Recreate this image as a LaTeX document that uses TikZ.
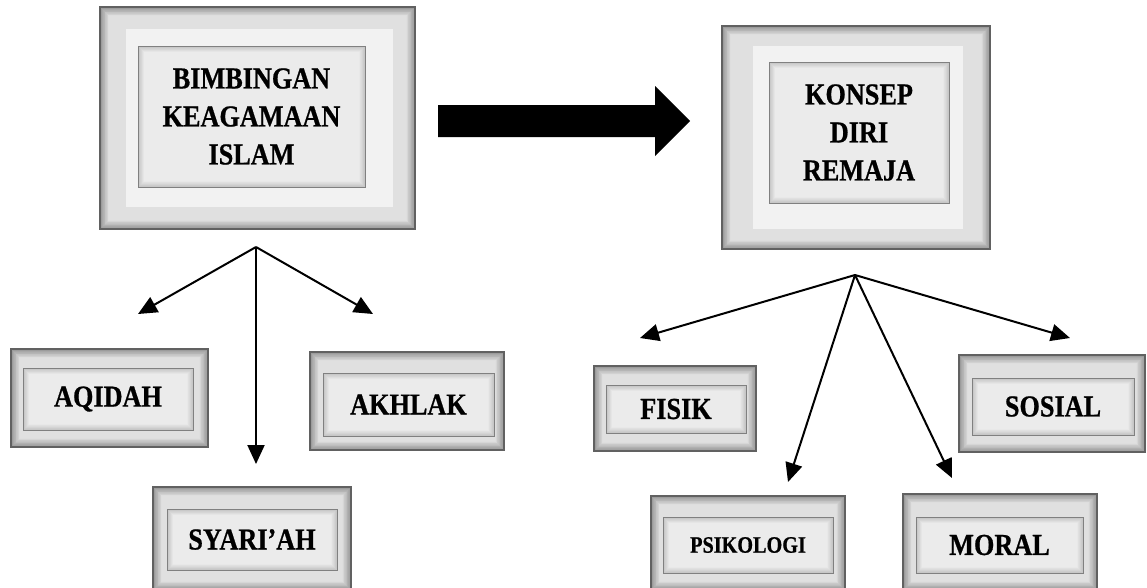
\documentclass[tikz,border=0pt]{standalone}
\usepackage{fontspec}
\setmainfont{Liberation Serif}[FakeStretch=0.86,BoldFeatures={FakeBold=0.7}]
\usetikzlibrary{arrows.meta}
\newcommand\bevfill[8]{%
  \foreach \k in {0,...,12}{%
    \pgfmathsetmacro\dd{#5*\k/12}%
    \pgfmathtruncatemacro\cc{#6+(#7-#6)*\k/12}%
    \fill[black!\cc] ({#1+\dd},{#2+\dd}) rectangle ({#3-\dd},{#4-\dd});
  }%
  \fill[black!#8] ({#1+#5},{#2+#5}) rectangle ({#3-#5},{#4-#5});
}
\newcommand\frameO[4]{%
  \bevfill{#1}{#2}{#3}{#4}{9}{42}{11}{12}%
  \draw[black!62,line width=1.3pt] (#1,#2) rectangle (#3,#4);
}
\newcommand\frameI[4]{%
  \bevfill{#1}{#2}{#3}{#4}{6}{24}{8}{8}%
  \draw[black!50,line width=1pt] (#1,#2) rectangle (#3,#4);
}
\newcommand\bandR[4]{%
  \fill[black!5] (#1,#2) rectangle (#3,#4);
}
\begin{document}
\begin{tikzpicture}[x=1pt,y=-1pt,
  lbl/.style={align=center,inner sep=0pt,font=\bfseries\fontsize{30.5}{38}\selectfont},
  lblsm/.style={align=center,inner sep=0pt,font=\bfseries\fontsize{23.5}{28}\selectfont},
  conn/.style={line width=2pt,-{Triangle[length=19pt,width=17pt]}}]
\useasboundingbox (0,0) rectangle (1147,587);
\fill[white] (0,0) rectangle (1147,587);
% big box 1
\frameO{100}{7}{415}{229}
\bandR{126}{29}{393}{207}
\frameI{138}{46}{365}{187}
\node[lbl] (bim) at (251.5,116.5) {BIMBINGAN\\KEAGAMAAN\\ISLAM};
% big box 2
\frameO{722}{26}{990}{249}
\bandR{753}{46}{963}{229}
\frameI{769}{62}{949}{203}
\node[lbl] (kon) at (859,132.5) {KONSEP\\DIRI\\REMAJA};
% small boxes
\frameO{11}{349}{208}{447}
\frameI{23}{368}{193}{430}
\node[lbl] (aq) at (108,399) {AQIDAH};
\frameO{310}{352}{504}{450}
\frameI{323}{373}{494}{436}
\node[lbl] (ak) at (408.5,404.5) {AKHLAK};
\frameO{153}{487}{351}{590}
\frameI{167}{509}{337}{570}
\node[lbl] (sy) at (252,539.5) {SYARI'AH};
\frameO{594}{366}{756}{451}
\frameI{606}{385}{746}{433}
\node[lbl] (fi) at (676,409) {FISIK};
\frameO{959}{355}{1145}{452}
\frameI{972}{378}{1134}{435}
\node[lbl] (so) at (1053,406.5) {SOSIAL};
\frameO{651}{496}{845}{590}
\frameI{663}{517}{833}{573}
\node[lblsm] (ps) at (748,545) {PSIKOLOGI};
\frameO{903}{494}{1097}{590}
\frameI{916}{517}{1083}{573}
\node[lbl] (mo) at (999.5,545) {MORAL};
% big arrow
\coordinate (ba1) at (438,105);
\coordinate (ba2) at (690,121);
\fill[black] (ba1) -- (655,105) -- (655,86) -- (ba2) -- (655,156) -- (655,137) -- (438,137) -- cycle;
% connectors left
\coordinate (o1) at (256,247);
\coordinate (t1) at (138,314);
\coordinate (t2) at (373,314);
\coordinate (t3) at (256,464);
\draw[conn] (o1) -- (t1);
\draw[conn] (o1) -- (t2);
\draw[conn] (o1) -- (t3);
% connectors right
\coordinate (o2) at (855,275);
\coordinate (t4) at (640,338);
\coordinate (t5) at (1070,338);
\coordinate (t6) at (788,482);
\coordinate (t7) at (952,478);
\draw[conn] (o2) -- (t4);
\draw[conn] (o2) -- (t5);
\draw[conn] (o2) -- (t6);
\draw[conn] (o2) -- (t7);
\end{tikzpicture}
\end{document}
